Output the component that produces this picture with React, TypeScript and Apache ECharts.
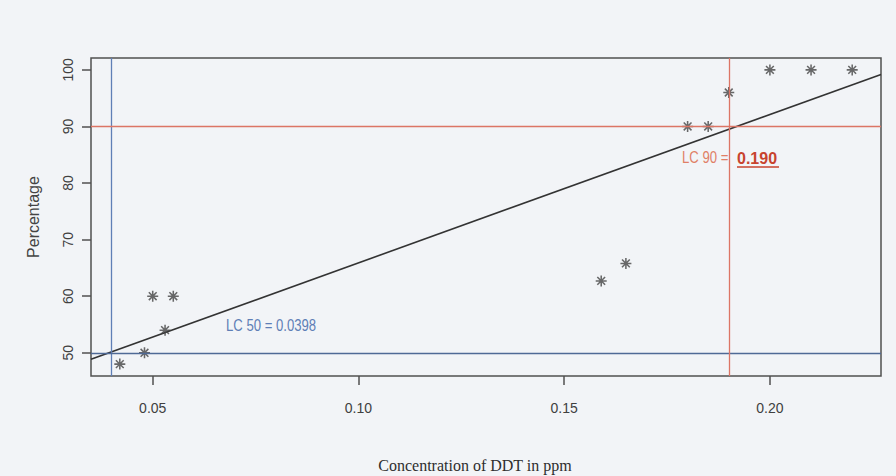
import React, { useEffect, useRef } from "react";
import * as echarts from "echarts";

// ---- data ----
const concentration = [0.042, 0.048, 0.053, 0.05, 0.055, 0.159, 0.165, 0.18, 0.185, 0.19, 0.2, 0.21, 0.22];
const percentage = [48, 50, 54, 60, 60, 62.7, 65.8, 90, 90, 96, 100, 100, 100];
const xTicks = [0.05, 0.1, 0.15, 0.2];
const yTicks = [50, 60, 70, 80, 90, 100];
const xRange = [0.035, 0.227];
const yRange = [45.9, 102.1];
const fitIntercept = 39.66;
const fitSlope = 262.3;
const lc50 = 0.0398;
const lc90 = 0.19;
const lc50Label = "LC 50 = 0.0398";
const lc90Prefix = "LC 90 =";
const lc90Value = "0.190";
const xTitle = "Concentration of DDT in ppm";
const yTitle = "Percentage";

function asteriskPath(): string {
  const L = 10;
  const w = 1.4;
  let d = "";
  for (const deg of [0, 45, 90, 135]) {
    const t = (deg * Math.PI) / 180;
    const c = Math.cos(t);
    const s = Math.sin(t);
    const pts = [
      [L, w],
      [L, -w],
      [-L, -w],
      [-L, w],
    ].map(([u, v]) => [u * c - v * s, u * s + v * c]);
    d += "M" + pts.map((p) => p[0].toFixed(3) + " " + p[1].toFixed(3)).join(" L") + " Z ";
  }
  return "path://" + d;
}

export default function App() {
  const ref = useRef<HTMLDivElement>(null);
  useEffect(() => {
    if (!ref.current) return;
    const chart = echarts.init(ref.current, undefined, { renderer: "svg" });
    const points = concentration.map((x, i) => [x, percentage[i]]);
    const fit = xRange.map((x) => [x, fitIntercept + fitSlope * x]);
    const blue = "#5f7fb6";
    const red = "#dc7565";
    const sans = '"Liberation Sans", Arial, sans-serif';
    chart.setOption({
      animation: false,
      backgroundColor: "#f2f4f7",
      grid: {
        left: 91,
        top: 58,
        right: 15,
        bottom: 100,
        show: true,
        borderColor: "#505050",
        borderWidth: 1.5,
        backgroundColor: "transparent",
      },
      xAxis: {
        type: "value",
        min: xRange[0],
        max: xRange[1],
        splitLine: { show: false },
        axisLine: { show: false },
        axisTick: {
          show: true,
          inside: false,
          length: 9,
          customValues: xTicks,
          lineStyle: { color: "#505050", width: 1.5 },
        },
        axisLabel: {
          customValues: xTicks,
          formatter: (v: number) => v.toFixed(2),
          margin: 25,
          fontSize: 14,
          color: "#404040",
          fontFamily: sans,
        },
      },
      yAxis: {
        type: "value",
        min: yRange[0],
        max: yRange[1],
        name: yTitle,
        nameLocation: "middle",
        nameGap: 50,
        nameRotate: 90,
        nameTextStyle: { fontSize: 16, color: "#444", fontFamily: sans },
        splitLine: { show: false },
        axisLine: { show: false },
        axisTick: {
          show: true,
          inside: false,
          length: 9,
          customValues: yTicks,
          lineStyle: { color: "#505050", width: 1.5 },
        },
        axisLabel: {
          customValues: yTicks,
          rotate: 90,
          margin: 16,
          fontSize: 14,
          color: "#404040",
          fontFamily: sans,
        },
      },
      series: [
        {
          type: "line",
          data: fit,
          showSymbol: false,
          lineStyle: { color: "#333", width: 1.6 },
          z: 3,
          markLine: {
            silent: true,
            symbol: "none",
            label: { show: false },
            data: [
              { xAxis: lc50, lineStyle: { color: blue, width: 1.3, type: "solid" } },
              { yAxis: 50, lineStyle: { color: "#4f6a96", width: 1.3, type: "solid" } },
              { xAxis: lc90, lineStyle: { color: red, width: 1.3, type: "solid" } },
              { yAxis: 90, lineStyle: { color: red, width: 1.3, type: "solid" } },
            ],
          },
        },
        {
          type: "scatter",
          data: points,
          symbol: asteriskPath(),
          symbolSize: 11,
          itemStyle: { color: "#444" },
          z: 4,
        },
      ],
      graphic: [
        {
          type: "text",
          x: 226,
          y: 326,
          scaleX: 0.82,
          style: { text: lc50Label, fill: blue, font: "16px " + sans, verticalAlign: "middle" },
        },
        {
          type: "text",
          x: 682,
          y: 158,
          scaleX: 0.82,
          style: { text: lc90Prefix, fill: "#e07f66", font: "16px " + sans, verticalAlign: "middle" },
        },
        {
          type: "text",
          x: 737,
          y: 158,
          style: { text: lc90Value, fill: "#c8432e", font: "bold 16px " + sans, verticalAlign: "middle" },
        },
        {
          type: "line",
          shape: { x1: 737, y1: 167, x2: 779, y2: 167 },
          style: { stroke: "#c8432e", lineWidth: 1.5 },
        },
        {
          type: "text",
          x: 475,
          y: 465,
          style: {
            text: xTitle,
            fill: "#2e2e2e",
            font: '16px "Liberation Serif", "Times New Roman", serif',
            align: "center",
            verticalAlign: "middle",
          },
        },
      ],
    });
    return () => chart.dispose();
  }, []);
  return (
    <div
      ref={ref}
      style={{ position: "fixed", left: 0, top: 0, width: 896, height: 476 }}
    />
  );
}
